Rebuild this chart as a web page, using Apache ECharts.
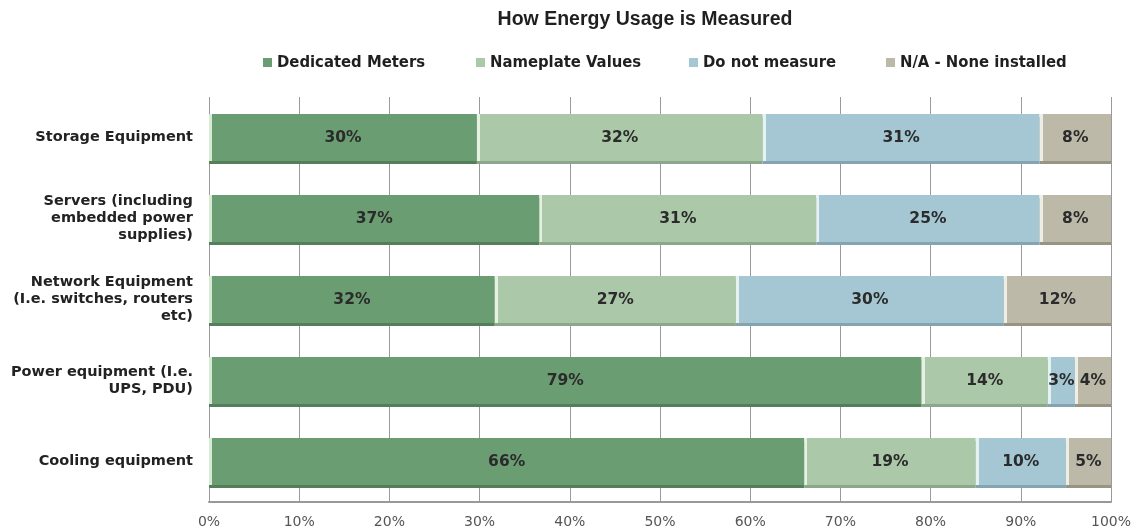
<!DOCTYPE html>
<html>
<head>
<meta charset="utf-8">
<title>How Energy Usage is Measured</title>
<script src="https://cdn.jsdelivr.net/npm/echarts@6/dist/echarts.min.js"></script>
<style>
  html, body { margin: 0; padding: 0; background: #ffffff; }
  #chart { width: 1135px; height: 532px; }
</style>
</head>
<body>
<div id="chart"></div>
<script>
// Equipment types, top to bottom
const categories = [
  'Storage Equipment',
  'Servers (including\nembedded power\nsupplies)',
  'Network Equipment\n(I.e. switches, routers\netc)',
  'Power equipment (I.e.\nUPS, PDU)',
  'Cooling equipment'
];

// Share of respondents (%) per measurement method
const dedicatedMeters = [30, 37, 32, 79, 66];
const nameplateValues = [32, 31, 27, 14, 19];
const doNotMeasure    = [31, 25, 30, 3, 10];
const noneInstalled   = [8, 8, 12, 4, 5];

const seriesNames = ['Dedicated Meters', 'Nameplate Values', 'Do not measure', 'N/A - None installed'];
const axisTicks = [0, 10, 20, 30, 40, 50, 60, 70, 80, 90, 100];

// fill colour and darker bottom edge for each method
const palette = [
  ['#6b9d72', '#557e5b'],
  ['#abc8a9', '#8ca78a'],
  ['#a4c7d3', '#83a4b0'],
  ['#bcb9a8', '#979482']
];
const edgeLight = ['#d7ead3', '#e6f1e4', '#e4f2f0', '#eeeee6'];

const seriesValues = [dedicatedMeters, nameplateValues, doNotMeasure, noneInstalled];

// each bar is a 100% stack, so every row is scaled by its total
const rowTotals = categories.map((_, i) =>
  seriesValues.reduce((s, arr) => s + arr[i], 0));

const GRID_LEFT = 209, GRID_RIGHT = 24, CHART_W = 1135;
const plotWidth = CHART_W - GRID_LEFT - GRID_RIGHT;

// pale strip on the left edge of every segment
function segmentFill(k, share) {
  const px = Math.max(share / 100 * plotWidth, 1);
  const d = Math.min(3 / px, 0.5);
  return new echarts.graphic.LinearGradient(0, 0, 1, 0, [
    { offset: 0, color: edgeLight[k] },
    { offset: d, color: edgeLight[k] },
    { offset: d, color: palette[k][0] },
    { offset: 1, color: palette[k][0] }
  ]);
}

const chart = echarts.init(document.getElementById('chart'), null, { renderer: 'canvas' });

const legendLefts = [263, 476, 689, 886];

const option = {
  backgroundColor: '#ffffff',
  animation: false,
  color: palette.map(p => p[0]),
  title: {
    text: 'How Energy Usage is Measured',
    left: 640,
    top: 5,
    textAlign: 'center',
    textStyle: {
      fontFamily: 'Liberation Sans',
      fontWeight: 'bold',
      fontSize: 19.5,
      color: '#1f1f1f'
    }
  },
  legend: seriesNames.map((name, k) => ({
    data: [{ name: name, itemStyle: { color: palette[k][0] } }],
    left: legendLefts[k],
    top: 54,
    padding: 0,
    icon: 'rect',
    itemWidth: 9,
    itemHeight: 9,
    itemGap: 0,
    selectedMode: false,
    textStyle: {
      fontFamily: 'DejaVu Sans Condensed',
      fontWeight: 'bold',
      fontSize: 16.5,
      color: '#1f1f1f'
    }
  })),
  grid: {
    left: GRID_LEFT,
    right: GRID_RIGHT,
    top: 97,
    bottom: 30,
    containLabel: false
  },
  xAxis: {
    type: 'value',
    min: 0,
    max: 100,
    interval: 10,
    axisLine: { show: true, lineStyle: { color: '#999999', width: 2 } },
    axisTick: { show: false },
    splitLine: { show: true, lineStyle: { color: '#9a9a9a', width: 1 } },
    axisLabel: {
      margin: 13,
      fontFamily: 'DejaVu Sans',
      fontSize: 14,
      color: '#555555',
      formatter: v => axisTicks.includes(v) ? v + '%' : ''
    }
  },
  yAxis: {
    type: 'category',
    data: categories,
    inverse: true,
    axisLine: { show: false },
    axisTick: { show: false },
    splitLine: { show: false },
    axisLabel: {
      margin: 16,
      align: 'right',
      fontFamily: 'DejaVu Sans',
      fontWeight: 'bold',
      fontSize: 14.5,
      lineHeight: 17,
      color: '#222222'
    }
  },
  series: seriesNames.map((name, k) => ({
    name: name,
    type: 'bar',
    stack: 'share',
    barCategoryGap: '42%',
    itemStyle: {
      shadowColor: palette[k][1],
      shadowOffsetY: 3,
      shadowBlur: 0
    },
    emphasis: { disabled: true },
    label: {
      show: true,
      position: 'inside',
      fontFamily: 'DejaVu Sans',
      fontWeight: 'bold',
      fontSize: 15.5,
      color: '#2b2b2b',
      formatter: p => p.data.raw + '%'
    },
    data: seriesValues[k].map((v, i) => {
      const share = v / rowTotals[i] * 100;
      return {
        value: share,
        raw: v,
        itemStyle: { color: segmentFill(k, share) }
      };
    })
  }))
};

chart.setOption(option);
</script>
</body>
</html>
